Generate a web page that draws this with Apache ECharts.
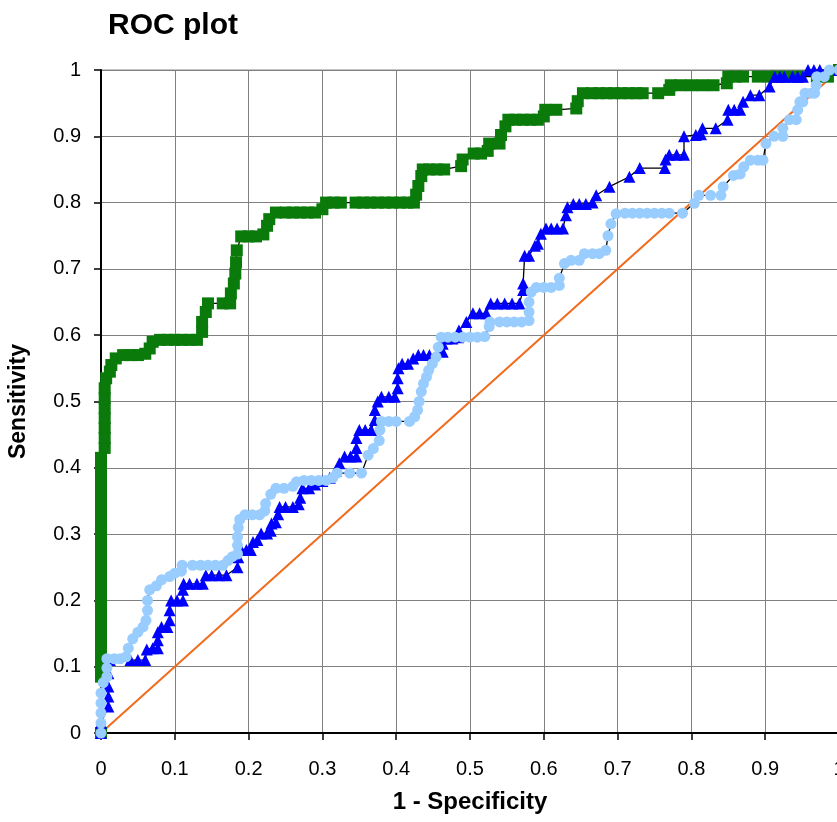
<!DOCTYPE html>
<html>
<head>
<meta charset="utf-8">
<script src="https://cdn.jsdelivr.net/npm/echarts@6/dist/echarts.min.js"></script>
<style>
html,body{margin:0;padding:0;background:#fff;}
#chart{width:837px;height:822px;}
</style>
</head>
<body>
<div id="chart"></div>
<script>
var xTicks = [0, 0.1, 0.2, 0.3, 0.4, 0.5, 0.6, 0.7, 0.8, 0.9, 1];
var yTicks = [0, 0.1, 0.2, 0.3, 0.4, 0.5, 0.6, 0.7, 0.8, 0.9, 1];

var diagonal = [[0, 0], [1, 1]];

var greenSeries = [
[0,0],[0,0.085],[0,0.1],[0,0.115],[0,0.13],[0,0.145],[0,0.16],[0,0.175],[0,0.19],[0,0.205],[0,0.22],[0,0.235],[0,0.25],[0,0.265],[0,0.28],[0,0.295],[0,0.31],[0,0.325],[0,0.34],[0,0.355],[0,0.37],[0,0.385],[0,0.40],[0,0.415],
[0.005,0.43],[0.005,0.445],[0.005,0.46],[0.005,0.475],[0.005,0.49],[0.005,0.505],[0.005,0.52],[0.007,0.535],
[0.012,0.545],[0.014,0.555],[0.02,0.565],[0.03,0.57],[0.04,0.57],[0.05,0.57],[0.06,0.572],[0.066,0.58],[0.07,0.59],[0.08,0.593],[0.09,0.593],[0.1,0.593],[0.11,0.593],[0.12,0.593],[0.13,0.593],
[0.137,0.605],[0.137,0.62],[0.142,0.635],[0.145,0.648],[0.165,0.648],[0.175,0.648],[0.176,0.663],[0.18,0.678],[0.182,0.693],[0.183,0.71],[0.184,0.728],[0.19,0.749],[0.2,0.749],[0.21,0.749],[0.22,0.752],[0.225,0.765],[0.228,0.775],
[0.237,0.785],[0.25,0.785],[0.26,0.785],[0.27,0.785],[0.28,0.785],[0.29,0.785],[0.3,0.79],[0.305,0.8],[0.315,0.8],[0.325,0.8],[0.345,0.8],[0.355,0.8],[0.365,0.8],[0.375,0.8],[0.385,0.8],[0.395,0.8],[0.405,0.8],[0.415,0.8],[0.424,0.8],
[0.427,0.812],[0.43,0.825],[0.434,0.84],[0.436,0.85],[0.445,0.85],[0.455,0.85],[0.465,0.85],[0.488,0.855],[0.49,0.865],[0.505,0.874],[0.515,0.874],[0.524,0.878],[0.526,0.889],[0.54,0.889],[0.542,0.902],[0.548,0.915],[0.552,0.925],
[0.562,0.925],[0.572,0.925],[0.582,0.925],[0.592,0.925],[0.6,0.93],[0.602,0.94],[0.617,0.94],[0.644,0.942],[0.646,0.953],[0.653,0.965],[0.665,0.965],[0.675,0.965],[0.685,0.965],[0.695,0.965],[0.705,0.965],[0.715,0.965],[0.725,0.965],[0.734,0.965],[0.755,0.965],
[0.77,0.97],[0.772,0.977],[0.785,0.977],[0.8,0.977],[0.815,0.977],[0.83,0.977],[0.848,0.98],[0.85,0.99],[0.86,0.99],[0.87,0.99],[0.89,0.99],[0.905,0.99],[0.915,0.99],[0.93,0.99],[0.945,0.99],[0.97,0.99],[0.985,0.99],[1,1]
];

var blueSeries = [
[0,0],[0,0.015],[0.01,0.04],[0.01,0.055],[0.01,0.07],[0.01,0.09],[0.012,0.11],[0.04,0.11],[0.05,0.11],[0.06,0.11],[0.062,0.126],[0.07,0.128],[0.077,0.128],[0.077,0.14],[0.077,0.152],[0.082,0.16],[0.09,0.16],
[0.093,0.17],[0.093,0.185],[0.095,0.2],[0.103,0.2],[0.111,0.2],[0.111,0.216],[0.112,0.225],[0.12,0.225],[0.13,0.225],[0.138,0.225],[0.142,0.238],[0.15,0.238],[0.16,0.238],[0.17,0.238],[0.185,0.25],[0.186,0.265],
[0.19,0.276],[0.197,0.276],[0.203,0.276],[0.206,0.288],[0.212,0.291],[0.217,0.301],[0.225,0.301],[0.23,0.305],[0.231,0.316],[0.237,0.318],[0.24,0.33],[0.242,0.341],[0.25,0.341],[0.26,0.341],[0.268,0.345],[0.27,0.355],[0.273,0.369],[0.282,0.369],
[0.29,0.375],[0.3,0.38],[0.31,0.385],[0.318,0.395],[0.323,0.407],[0.33,0.417],[0.338,0.417],[0.346,0.417],[0.346,0.43],[0.346,0.445],[0.35,0.457],[0.358,0.457],[0.366,0.457],[0.371,0.472],[0.371,0.487],[0.375,0.5],[0.38,0.507],[0.39,0.507],[0.398,0.507],
[0.402,0.52],[0.402,0.535],[0.403,0.55],[0.408,0.557],[0.416,0.557],[0.423,0.565],[0.43,0.57],[0.437,0.57],[0.445,0.57],[0.463,0.575],[0.463,0.587],[0.468,0.595],[0.476,0.595],[0.484,0.597],[0.485,0.607],[0.495,0.62],[0.504,0.633],[0.513,0.633],[0.522,0.633],
[0.528,0.648],[0.537,0.648],[0.547,0.648],[0.557,0.648],[0.567,0.648],[0.572,0.668],[0.572,0.678],[0.574,0.72],[0.58,0.72],[0.588,0.735],[0.592,0.738],[0.596,0.753],[0.603,0.761],[0.61,0.761],[0.618,0.761],[0.626,0.761],[0.63,0.781],[0.632,0.793],
[0.64,0.798],[0.648,0.798],[0.657,0.798],[0.666,0.8],[0.671,0.811],[0.689,0.824],[0.716,0.839],[0.73,0.852],[0.764,0.852],[0.765,0.865],[0.77,0.872],[0.78,0.872],[0.79,0.872],[0.79,0.9],[0.806,0.902],[0.813,0.903],[0.815,0.912],[0.833,0.912],
[0.849,0.925],[0.85,0.94],[0.858,0.94],[0.866,0.94],[0.87,0.952],[0.88,0.962],[0.892,0.962],[0.906,0.975],[0.913,0.99],[0.92,0.99],[0.926,0.99],[0.937,0.99],[0.944,0.99],[0.951,0.99],[0.958,1],[0.966,1],[0.974,1],[1,1]
];

var lightBlueSeries = [
[0,0],[0,0.015],[0,0.03],[0,0.045],[0,0.06],[0.003,0.076],[0.008,0.085],[0.008,0.098],[0.008,0.112],[0.018,0.112],[0.026,0.112],[0.034,0.115],[0.037,0.128],[0.043,0.142],[0.05,0.152],[0.057,0.16],[0.061,0.17],[0.063,0.185],[0.063,0.2],
[0.066,0.216],[0.075,0.222],[0.082,0.231],[0.093,0.236],[0.1,0.241],[0.109,0.244],[0.11,0.253],[0.124,0.253],[0.135,0.253],[0.145,0.253],[0.155,0.253],[0.165,0.253],[0.172,0.26],[0.178,0.266],[0.185,0.27],[0.185,0.283],[0.185,0.296],[0.186,0.31],[0.188,0.322],
[0.195,0.329],[0.205,0.329],[0.215,0.329],[0.222,0.335],[0.223,0.346],[0.23,0.36],[0.237,0.369],[0.248,0.369],[0.26,0.372],[0.265,0.379],[0.275,0.381],[0.285,0.381],[0.295,0.381],[0.305,0.381],[0.314,0.385],[0.32,0.392],[0.337,0.392],[0.353,0.392],
[0.362,0.419],[0.369,0.429],[0.377,0.441],[0.378,0.457],[0.38,0.47],[0.39,0.47],[0.4,0.47],[0.418,0.47],[0.425,0.477],[0.429,0.487],[0.431,0.5],[0.434,0.515],[0.437,0.527],[0.441,0.537],[0.444,0.547],[0.449,0.557],[0.454,0.567],[0.457,0.582],[0.461,0.597],
[0.47,0.597],[0.48,0.597],[0.49,0.597],[0.5,0.597],[0.51,0.597],[0.52,0.598],[0.526,0.613],[0.527,0.62],[0.54,0.62],[0.55,0.62],[0.56,0.62],[0.57,0.62],[0.58,0.622],[0.58,0.635],[0.58,0.65],[0.583,0.665],[0.59,0.672],[0.6,0.672],[0.61,0.672],[0.621,0.675],[0.621,0.686],
[0.628,0.708],[0.637,0.713],[0.648,0.713],[0.655,0.723],[0.666,0.723],[0.675,0.723],[0.684,0.728],[0.687,0.75],[0.691,0.768],[0.698,0.783],[0.71,0.784],[0.72,0.784],[0.73,0.784],[0.74,0.784],[0.75,0.784],[0.76,0.784],[0.77,0.784],[0.788,0.784],
[0.804,0.799],[0.81,0.811],[0.826,0.811],[0.84,0.811],[0.843,0.824],[0.857,0.841],[0.866,0.843],[0.871,0.854],[0.88,0.864],[0.89,0.864],[0.897,0.864],[0.901,0.889],[0.912,0.9],[0.924,0.9],[0.924,0.912],[0.933,0.925],[0.942,0.925],[0.944,0.94],
[0.947,0.952],[0.951,0.952],[0.954,0.965],[0.962,0.965],[0.967,0.965],[0.969,0.977],[0.97,0.99],[0.98,0.99],[0.987,1],[1,1]
];

var FONT = '"Liberation Sans", Arial, sans-serif';
var chart = echarts.init(document.getElementById('chart'), null, {renderer: 'canvas'});

function axisCommon(ticks) {
  return {
    type: 'value',
    min: ticks[0],
    max: ticks[ticks.length - 1],
    interval: 0.1,
    axisLine: {show: true, onZero: false, lineStyle: {color: '#000', width: 2}},
    axisTick: {show: true, inside: false, length: 7, lineStyle: {color: '#000', width: 1.5}},
    splitLine: {show: true, lineStyle: {color: '#808080', width: 1}},
    axisLabel: {color: '#000', fontSize: 20, fontFamily: FONT, hideOverlap: false,
      formatter: function (v) { return String(Math.round(v * 10) / 10); }},
    nameLocation: 'middle',
    nameTextStyle: {color: '#000', fontWeight: 'bold', fontFamily: FONT}
  };
}

var xAx = axisCommon(xTicks);
xAx.name = '1 - Specificity';
xAx.nameGap = 57;
xAx.nameTextStyle.fontSize = 24;
xAx.axisLabel.margin = 26;

var yAx = axisCommon(yTicks);
yAx.name = 'Sensitivity';
yAx.nameGap = 71;
yAx.nameTextStyle.fontSize = 23;
yAx.axisLabel.margin = 20;

function curve(name, data, color, symbol, size) {
  return {
    name: name, type: 'line', data: data,
    symbol: symbol, symbolSize: size, showSymbol: true,
    lineStyle: {color: '#000', width: 1.3},
    itemStyle: {color: color, borderWidth: 0},
    animation: false, clip: false
  };
}

chart.setOption({
  backgroundColor: '#fff',
  animation: false,
  title: {text: 'ROC plot', left: 103, top: 6,
    textStyle: {fontSize: 30, fontWeight: 'bold', color: '#000', fontFamily: FONT}},
  grid: {left: 101, top: 70, width: 738, height: 663, outerBoundsMode: 'none', containLabel: false,
    show: true, borderColor: '#8a8a8a', borderWidth: 1},
  xAxis: xAx,
  yAxis: yAx,
  series: [
    {name: 'diagonal', type: 'line', data: diagonal, symbol: 'none',
      lineStyle: {color: '#f26a1b', width: 2}, animation: false, z: 1},
    curve('green', greenSeries, '#0a7a0a', 'rect', 12),
    curve('blue', blueSeries, '#0000ff', 'triangle', 12),
    curve('lightblue', lightBlueSeries, '#99ccff', 'circle', 11)
  ]
});
</script>
</body>
</html>
